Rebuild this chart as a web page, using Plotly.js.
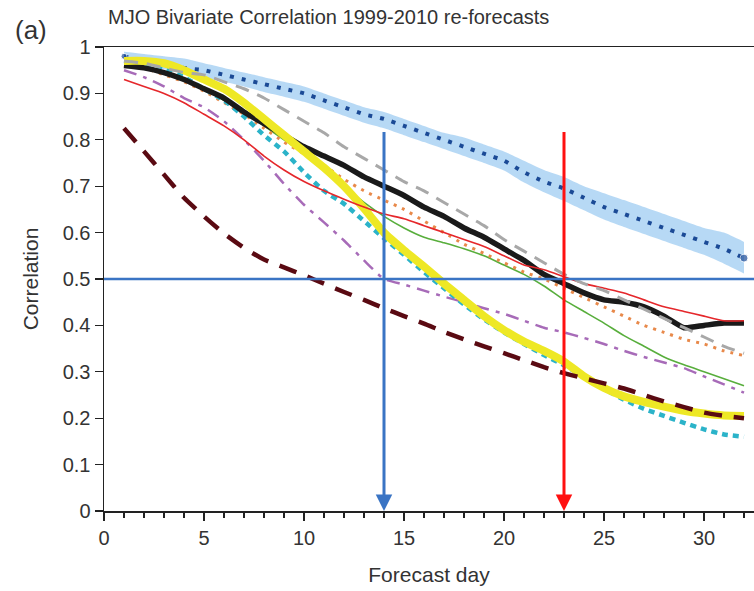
<!DOCTYPE html>
<html>
<head>
<meta charset="utf-8">
<script src="https://cdn.plot.ly/plotly-3.0.1.min.js"></script>
<style>html,body{margin:0;padding:0;background:#fff;}#chart{width:754px;height:591px;}</style>
</head>
<body>
<div id="chart"></div>
<script>
const days = [1,2,3,4,5,6,7,8,9,10,11,12,13,14,15,16,17,18,19,20,21,22,23,24,25,26,27,28,29,30,31,32];

const blueDotted = [0.98,0.97,0.965,0.955,0.95,0.94,0.93,0.92,0.91,0.90,0.885,0.87,0.855,0.845,0.83,0.815,0.80,0.785,0.77,0.755,0.73,0.71,0.695,0.675,0.655,0.64,0.625,0.61,0.595,0.58,0.565,0.545];
const blueUpper  = [0.99,0.985,0.98,0.975,0.965,0.955,0.945,0.935,0.925,0.915,0.90,0.885,0.87,0.86,0.845,0.83,0.815,0.805,0.79,0.775,0.755,0.735,0.72,0.70,0.685,0.67,0.655,0.64,0.625,0.61,0.60,0.58];
const blueLower  = [0.97,0.96,0.952,0.942,0.935,0.925,0.915,0.903,0.893,0.882,0.867,0.852,0.837,0.825,0.81,0.795,0.78,0.765,0.75,0.734,0.708,0.687,0.668,0.648,0.628,0.612,0.597,0.582,0.567,0.552,0.533,0.512];
const grayDashed = [0.97,0.965,0.955,0.945,0.94,0.925,0.91,0.89,0.865,0.84,0.815,0.785,0.76,0.735,0.71,0.69,0.665,0.64,0.615,0.585,0.56,0.535,0.51,0.49,0.475,0.455,0.435,0.415,0.395,0.375,0.355,0.34];
const blackThick = [0.96,0.955,0.945,0.93,0.91,0.89,0.86,0.835,0.81,0.785,0.765,0.745,0.72,0.70,0.68,0.655,0.635,0.61,0.59,0.565,0.54,0.51,0.49,0.47,0.455,0.45,0.44,0.42,0.395,0.40,0.405,0.405];
const redThin    = [0.93,0.915,0.90,0.88,0.855,0.83,0.80,0.765,0.735,0.71,0.69,0.672,0.655,0.64,0.63,0.615,0.60,0.585,0.57,0.55,0.53,0.52,0.505,0.49,0.48,0.47,0.455,0.44,0.43,0.42,0.41,0.41];
const orangeDot  = [0.96,0.955,0.94,0.925,0.905,0.88,0.855,0.825,0.795,0.77,0.745,0.715,0.69,0.67,0.65,0.625,0.60,0.575,0.555,0.535,0.515,0.50,0.48,0.46,0.44,0.42,0.40,0.385,0.37,0.36,0.345,0.335];
const greenThin  = [0.96,0.955,0.945,0.93,0.91,0.885,0.86,0.83,0.80,0.77,0.735,0.70,0.665,0.635,0.61,0.59,0.578,0.565,0.55,0.53,0.51,0.485,0.455,0.43,0.405,0.378,0.355,0.332,0.315,0.30,0.285,0.27];
const purpleDashDot = [0.95,0.935,0.915,0.89,0.87,0.84,0.80,0.755,0.705,0.66,0.622,0.583,0.54,0.50,0.488,0.475,0.462,0.45,0.437,0.425,0.41,0.395,0.385,0.373,0.36,0.345,0.332,0.32,0.308,0.29,0.273,0.255];
const yellowThick = [0.97,0.97,0.965,0.95,0.93,0.91,0.88,0.845,0.81,0.775,0.74,0.70,0.652,0.60,0.562,0.527,0.49,0.455,0.42,0.39,0.365,0.345,0.322,0.29,0.265,0.247,0.235,0.225,0.216,0.21,0.206,0.205];
const cyanDotted = [0.97,0.965,0.955,0.935,0.91,0.885,0.85,0.81,0.775,0.73,0.69,0.662,0.625,0.588,0.552,0.515,0.48,0.445,0.413,0.385,0.36,0.336,0.314,0.29,0.263,0.24,0.22,0.205,0.19,0.176,0.165,0.16];
const maroonDashed = [0.825,0.775,0.725,0.675,0.635,0.598,0.567,0.542,0.525,0.508,0.49,0.472,0.455,0.437,0.42,0.404,0.386,0.37,0.355,0.34,0.325,0.31,0.297,0.286,0.275,0.264,0.25,0.236,0.224,0.212,0.205,0.20];

const xTicks = [0,5,10,15,20,25,30];
const yTicks = [0,0.1,0.2,0.3,0.4,0.5,0.6,0.7,0.8,0.9,1];
const thresholdCorr = 0.5;
const blueArrowDay = 14;
const redArrowDay = 23;
const arrowTop = 0.82;

function ln(y, color, width, dash) {
  return {x: days, y: y, type: 'scatter', mode: 'lines', hoverinfo: 'skip', showlegend: false,
          line: {color: color, width: width, dash: dash || 'solid', shape: 'spline', smoothing: 0.5}};
}

const traces = [
  {x: days, y: blueUpper, type: 'scatter', mode: 'lines', line: {width: 0, color: 'rgba(0,0,0,0)', shape: 'spline', smoothing: 0.5}, showlegend: false, hoverinfo: 'skip'},
  {x: days, y: blueLower, type: 'scatter', mode: 'lines', line: {width: 0, color: 'rgba(0,0,0,0)', shape: 'spline', smoothing: 0.5}, fill: 'tonexty', fillcolor: 'rgba(165,208,243,0.8)', showlegend: false, hoverinfo: 'skip'},
  ln(blueDotted, '#1b4a96', 4, '4px,8px'),
  {x: [days[0], days[days.length - 1]], y: [blueDotted[0], blueDotted[blueDotted.length - 1]], type: 'scatter', mode: 'markers',
   marker: {color: '#1b4a96', size: [6, 8]}, showlegend: false, hoverinfo: 'skip'},
  ln(purpleDashDot, '#a76bb8', 2.5, '13px,7px,4px,7px'),
  ln(greenThin, '#58ae3c', 1.6),
  ln(orangeDot, '#e8894a', 3, '3px,6px'),
  ln(cyanDotted, '#2bb3c9', 4.5, '6px,5px'),
  ln(blackThick, '#1a1a1a', 5.5),
  ln(yellowThick, '#eee825', 8),
  ln(redThin, '#e5272b', 1.6),
  ln(grayDashed, '#a8a8a8', 3, '14px,9px'),
  ln(maroonDashed, '#5a0a12', 4.5, '18px,12px')
];

const layout = {
  width: 754, height: 591,
  margin: {l: 104, r: 0, t: 47, b: 80},
  paper_bgcolor: '#fff', plot_bgcolor: '#fff',
  font: {family: '"Liberation Sans", Arial, sans-serif', size: 20, color: '#333'},
  showlegend: false,
  xaxis: {
    range: [0, 32.5], tickvals: xTicks, ticktext: xTicks.map(String),
    ticks: 'outside', ticklen: 8, tickwidth: 1.3, tickcolor: '#222',
    minor: {dtick: 1, tick0: 0, ticks: 'outside', ticklen: 5, tickwidth: 1.2, tickcolor: '#222', showgrid: false},
    showline: true, linecolor: '#222', linewidth: 1.5, mirror: true,
    showgrid: false, zeroline: false,
    tickfont: {size: 20, color: '#333'},
    title: {text: 'Forecast day', font: {size: 21, color: '#333'}, standoff: 20}
  },
  yaxis: {
    range: [0, 1], tickvals: yTicks, ticktext: yTicks.map(v => String(v)),
    ticks: 'outside', ticklen: 8, tickwidth: 1.3, tickcolor: '#222',
    showline: true, linecolor: '#222', linewidth: 1.5,
    showgrid: false, zeroline: false,
    tickfont: {size: 20, color: '#333'},
    title: {text: 'Correlation', font: {size: 21, color: '#333'}, standoff: 18}
  },
  shapes: [
    {type: 'line', xref: 'x', yref: 'y', x0: 0, x1: 32.5, y0: thresholdCorr, y1: thresholdCorr,
     line: {color: '#3a74c4', width: 2.5}}
  ],
  annotations: [
    {xref: 'x', yref: 'y', axref: 'x', ayref: 'y', x: blueArrowDay, y: 0, ax: blueArrowDay, ay: arrowTop,
     text: '', showarrow: true, arrowhead: 2, arrowsize: 1.1, arrowwidth: 3, arrowcolor: '#3a74c4'},
    {xref: 'x', yref: 'y', axref: 'x', ayref: 'y', x: redArrowDay, y: 0, ax: redArrowDay, ay: arrowTop,
     text: '', showarrow: true, arrowhead: 2, arrowsize: 1.1, arrowwidth: 3, arrowcolor: '#ff1010'},
    {xref: 'paper', yref: 'paper', x: -0.112, y: 1.037, xanchor: 'center', yanchor: 'middle',
     text: '(a)', showarrow: false, font: {size: 26, color: '#333'}},
    {xref: 'paper', yref: 'paper', x: 0.003, y: 1.064, xanchor: 'left', yanchor: 'middle',
     text: 'MJO Bivariate Correlation 1999-2010 re-forecasts', showarrow: false, font: {size: 20, color: '#333'}}
  ]
};

Plotly.newPlot('chart', traces, layout, {staticPlot: true, displayModeBar: false});
</script>
</body>
</html>
